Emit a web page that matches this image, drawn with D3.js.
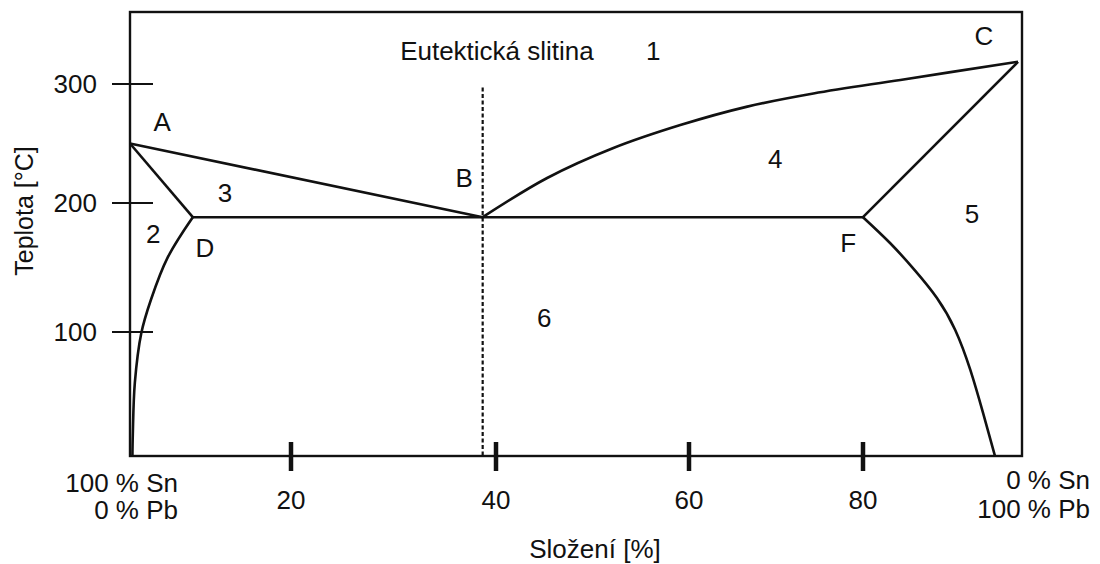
<!DOCTYPE html>
<html>
<head>
<meta charset="utf-8">
<script src="https://d3js.org/d3.v7.min.js"></script>
<style>
  body { margin: 0; background: #fff; }
  text { font-family: "Liberation Sans", Arial, sans-serif; fill: #111; }
</style>
</head>
<body>
<div id="svg-area"></div>
<script>
var svgWidth = 1100;
var svgHeight = 564;

// composition ticks (% Pb) and temperature ticks
var xTicks = [20, 40, 60, 80];
var yTicks = [100, 200, 300];

// phase boundaries, [% Pb, temperature]
var liquidusLeft = [[0, 250], [38.7, 189]];
var liquidusRight = [[38.7, 189], [45.3, 221], [52.1, 246], [59.1, 265.5], [66.7, 281], [74.3, 292], [84.7, 303.4], [99.5, 318.5]];
var solidusLeft = [[0, 250], [7.8, 189]];
var solidusRight = [[80, 189], [99.5, 318.5]];
var eutecticLine = [[7.8, 189], [80, 189]];
var solvusLeft = [[7.8, 189], [4.7, 158], [2.6, 125], [1.4, 99], [0.6, 59], [0.35, 18], [0.3, 0]];
var solvusRight = [[80, 189], [83.4, 169], [86.5, 148], [89.3, 126.4], [91.6, 101.6], [93.5, 69.4], [95.1, 34.7], [96.6, 0]];
var eutecticComp = 38.7;
var eutecticTop = 297;

// region / point labels: [text, % Pb, temperature]
var labels = [
  ["Eutektická slitina", 40.1, 320],
  ["1", 56.3, 320],
  ["A", 4.0, 260.5],
  ["2", 2.9, 169],
  ["3", 11.8, 201],
  ["D", 9.3, 158],
  ["B", 36.9, 213.4],
  ["4", 69.9, 229.4],
  ["5", 93.7, 184.5],
  ["C", 95.2, 332.8],
  ["F", 78.3, 162],
  ["6", 45, 104]
];

var svg = d3.select("#svg-area")
  .append("svg")
  .attr("width", svgWidth)
  .attr("height", svgHeight);

// the original drawing is not evenly spaced, so the scales are piecewise
var xScale = d3.scaleLinear()
  .domain([0, 20, 40, 60, 80, 100])
  .range([130, 291, 496, 689, 863, 1022]);

var yScale = d3.scaleLinear()
  .domain([0, 100, 200, 300, 360])
  .range([456, 332, 203, 84, 12]);

// frame
svg.append("rect")
  .attr("x", xScale(0))
  .attr("y", yScale(360))
  .attr("width", xScale(100) - xScale(0))
  .attr("height", yScale(0) - yScale(360))
  .attr("fill", "none")
  .attr("stroke", "#111")
  .attr("stroke-width", 2.4);

// y ticks cross the frame
svg.selectAll(".ytick")
  .data(yTicks)
  .enter()
  .append("line")
  .attr("class", "ytick")
  .attr("x1", xScale(0) - 18)
  .attr("x2", xScale(0) + 23)
  .attr("y1", d => yScale(d))
  .attr("y2", d => yScale(d))
  .attr("stroke", "#111")
  .attr("stroke-width", 2);

svg.selectAll(".ylabel")
  .data(yTicks)
  .enter()
  .append("text")
  .attr("class", "ylabel")
  .attr("x", xScale(0) - 33)
  .attr("y", d => yScale(d))
  .attr("dy", "0.36em")
  .attr("text-anchor", "end")
  .attr("font-size", 26)
  .text(d => d);

// x ticks are short thick bars
svg.selectAll(".xtick")
  .data(xTicks)
  .enter()
  .append("line")
  .attr("class", "xtick")
  .attr("x1", d => xScale(d))
  .attr("x2", d => xScale(d))
  .attr("y1", yScale(0) - 14)
  .attr("y2", yScale(0) + 15)
  .attr("stroke", "#111")
  .attr("stroke-width", 4.5);

svg.selectAll(".xlabel")
  .data(xTicks)
  .enter()
  .append("text")
  .attr("class", "xlabel")
  .attr("x", d => xScale(d))
  .attr("y", yScale(0) + 53)
  .attr("text-anchor", "middle")
  .attr("font-size", 26)
  .text(d => d);

// end labels
var leftEnd = svg.append("text")
  .attr("text-anchor", "end")
  .attr("font-size", 26);
leftEnd.append("tspan").attr("x", 178).attr("y", 492).text("100 % Sn");
leftEnd.append("tspan").attr("x", 178).attr("y", 519).text("0 % Pb");

var rightEnd = svg.append("text")
  .attr("text-anchor", "end")
  .attr("font-size", 26);
rightEnd.append("tspan").attr("x", 1090).attr("y", 489).text("0 % Sn");
rightEnd.append("tspan").attr("x", 1090).attr("y", 518).text("100 % Pb");

// axis titles
svg.append("text")
  .attr("x", 595)
  .attr("y", 558)
  .attr("text-anchor", "middle")
  .attr("font-size", 26)
  .text("Složení [%]");

svg.append("text")
  .attr("transform", "translate(33, 211) rotate(-90)")
  .attr("text-anchor", "middle")
  .attr("font-size", 25)
  .text("Teplota [°C]");

// phase lines
var straight = d3.line()
  .x(d => xScale(d[0]))
  .y(d => yScale(d[1]));

var smooth = d3.line()
  .x(d => xScale(d[0]))
  .y(d => yScale(d[1]))
  .curve(d3.curveCatmullRom.alpha(0.5));

var natural = d3.line()
  .x(d => xScale(d[0]))
  .y(d => yScale(d[1]))
  .curve(d3.curveNatural);

[liquidusLeft, solidusLeft, solidusRight, eutecticLine].forEach(function(pts) {
  svg.append("path")
    .attr("d", straight(pts))
    .attr("fill", "none")
    .attr("stroke", "#111")
    .attr("stroke-width", 2.6)
    .attr("stroke-linejoin", "miter");
});

[liquidusRight, solvusLeft].forEach(function(pts) {
  svg.append("path")
    .attr("d", smooth(pts))
    .attr("fill", "none")
    .attr("stroke", "#111")
    .attr("stroke-width", 2.6);
});

svg.append("path")
  .attr("d", natural(solvusRight))
  .attr("fill", "none")
  .attr("stroke", "#111")
  .attr("stroke-width", 2.6);

// eutectic composition
svg.append("line")
  .attr("x1", xScale(eutecticComp))
  .attr("x2", xScale(eutecticComp))
  .attr("y1", yScale(eutecticTop))
  .attr("y2", yScale(0))
  .attr("stroke", "#111")
  .attr("stroke-width", 2.2)
  .attr("stroke-dasharray", "4,2.5");

// labels
svg.selectAll(".plabel")
  .data(labels)
  .enter()
  .append("text")
  .attr("class", "plabel")
  .attr("x", d => xScale(d[1]))
  .attr("y", d => yScale(d[2]))
  .attr("text-anchor", "middle")
  .attr("font-size", 26)
  .text(d => d[0]);
</script>
</body>
</html>
